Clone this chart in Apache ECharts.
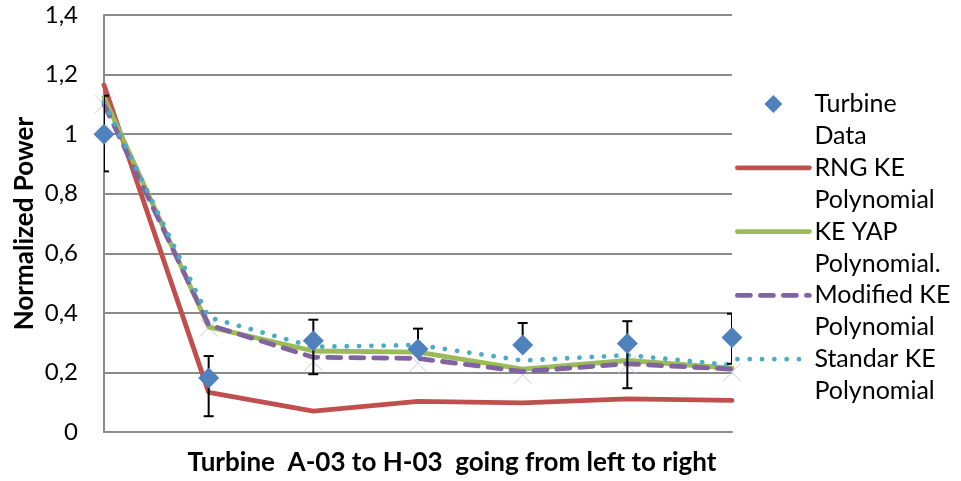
<!DOCTYPE html>
<html>
<head>
<meta charset="utf-8">
<script src="https://cdn.jsdelivr.net/npm/echarts@6/dist/echarts.min.js"></script>
<style>
html,body{margin:0;padding:0;background:#fff;}
#main{width:961px;height:481px;}
</style>
</head>
<body>
<div id="main"></div>
<script>
// ---- data ----
var categories = ['1', '2', '3', '4', '5', '6', '7'];
var yTickLabels = ['0', '0,2', '0,4', '0,6', '0,8', '1', '1,2', '1,4'];
var turbineData = [1.00, 0.181, 0.306, 0.279, 0.292, 0.297, 0.317];
var errHigh = [1.129, 0.255, 0.377, 0.347, 0.366, 0.372, 0.397];
var errLow = [0.875, 0.053, 0.194, 0.279, 0.292, 0.147, 0.229];
var rngKE = [1.165, 0.133, 0.070, 0.103, 0.098, 0.111, 0.106];
var keYAP = [1.124, 0.353, 0.272, 0.268, 0.211, 0.240, 0.214];
var modifiedKE = [1.100, 0.360, 0.251, 0.247, 0.203, 0.229, 0.211];
var standardKE = [1.108, 0.385, 0.286, 0.292, 0.240, 0.258, 0.225];
var crossMarks = [1.100, 0.350, 0.236, 0.231, 0.192, 0.225, 0.200];

var seriesNames = ['Turbine Data', 'RNG KE Polynomial', 'KE YAP Polynomial.', 'Modified KE Polynomial', 'Standar KE Polynomial'];
var legendLines = [['Turbine', 'Data'], ['RNG KE', 'Polynomial'], ['KE YAP', 'Polynomial.'], ['Modified KE', 'Polynomial'], ['Standar KE', 'Polynomial']];

var FONT = 'Lato';
var chart = echarts.init(document.getElementById('main'), null, {renderer: 'canvas'});

var errData = categories.map(function (c, i) { return [i, errLow[i], errHigh[i]]; });

var option = {
  backgroundColor: '#ffffff',
  animation: false,
  grid: {left: 104, right: 229, top: 15, bottom: 45, containLabel: false},
  legend: {
    orient: 'vertical',
    left: 735,
    top: 56,
    padding: 0,
    itemWidth: 72,
    itemHeight: 18,
    itemGap: -32.2,
    symbolKeepAspect: true,
    selectedMode: false,
    formatter: function (name) {
      var i = seriesNames.indexOf(name);
      return '\n' + legendLines[i].join('\n');
    },
    textStyle: {
      fontFamily: FONT, fontSize: 25, color: '#000', lineHeight: 32
    }
  },
  xAxis: {
    type: 'category',
    data: categories,
    boundaryGap: false,
    axisLine: {show: true, lineStyle: {color: '#8a8a8a', width: 2}},
    axisTick: {show: false},
    axisLabel: {show: false},
    splitLine: {show: false},
    name: 'Turbine  A-03 to H-03  going from left to right',
    nameLocation: 'middle',
    nameGap: 18,
    nameTextStyle: {fontFamily: FONT, fontWeight: 'bold', fontSize: 26, color: '#000', padding: [0, 0, 0, 68]}
  },
  yAxis: {
    type: 'value',
    min: 0, max: 1.4, interval: 0.2,
    axisLine: {show: true, lineStyle: {color: '#8a8a8a', width: 2}},
    axisTick: {show: false},
    axisLabel: {
      fontFamily: FONT, fontSize: 24, color: '#000', margin: 26,
      formatter: function (v) { return yTickLabels[Math.round(v / 0.2)]; }
    },
    splitLine: {show: true, lineStyle: {color: '#8a8a8a', width: 2}},
    name: 'Normalized Power',
    nameLocation: 'middle',
    nameRotate: 90,
    nameGap: 66,
    nameMoveOverlap: false,
    nameTextStyle: {fontFamily: FONT, fontWeight: 'bold', fontSize: 26, color: '#000'}
  },
  series: [
    {
      name: seriesNames[1], type: 'line', data: rngKE, symbol: 'none', z: 3,
      lineStyle: {color: '#C0504D', width: 4.8, cap: 'round'},
      itemStyle: {color: '#C0504D'}
    },
    {
      name: seriesNames[2], type: 'line', data: keYAP, symbol: 'none', z: 3,
      lineStyle: {color: '#9BBB59', width: 4.8, cap: 'round'},
      itemStyle: {color: '#9BBB59'}
    },
    {
      name: 'marks', type: 'scatter', data: crossMarks, z: 2,
      symbol: 'path://M0,0L10,10M10,0L0,10', symbolSize: 18,
      itemStyle: {color: 'none', borderColor: '#cfc8e3', borderWidth: 1, opacity: 1}
    },
    {
      name: seriesNames[3], type: 'line', data: modifiedKE, symbol: 'none', z: 4,
      lineStyle: {color: '#8064A2', width: 4.8, type: [13, 10], cap: 'round'},
      itemStyle: {color: '#8064A2'}
    },
    {
      name: seriesNames[4], type: 'line', data: standardKE, symbol: 'none', z: 5,
      lineStyle: {color: '#4BACC6', width: 4.8, type: [0.01, 12.3], cap: 'round'},
      itemStyle: {color: '#4BACC6'}
    },
    {
      name: 'err', type: 'custom', data: errData, z: 6, clip: true,
      renderItem: function (params, api) {
        var x = api.value(0);
        var lo = api.coord([x, api.value(1)]);
        var hi = api.coord([x, api.value(2)]);
        var hw = 5;
        var st = {stroke: '#000', lineWidth: 2};
        var children = [
          {type: 'line', shape: {x1: lo[0], y1: lo[1], x2: hi[0], y2: hi[1]}, style: st},
          {type: 'line', shape: {x1: hi[0] - hw, y1: hi[1], x2: hi[0] + hw, y2: hi[1]}, style: st}
        ];
        if (api.value(1) < turbineData[params.dataIndex] - 1e-6) {
          children.push({type: 'line', shape: {x1: lo[0] - hw, y1: lo[1], x2: lo[0] + hw, y2: lo[1]}, style: st});
        }
        return {type: 'group', children: children};
      }
    },
    {
      name: seriesNames[0], type: 'scatter', data: turbineData, z: 7,
      symbol: 'diamond', symbolSize: 21,
      itemStyle: {color: '#4F81BD', opacity: 1}
    }
  ]
};
option.legend.data = seriesNames.map(function (n, i) {
  if (i === 0) {
    return {name: n, icon: 'path://M0,-1L1,0L0,1L-1,0Z', itemStyle: {color: '#4F81BD', opacity: 1}};
  }
  return {
    name: n,
    itemStyle: {color: 'rgba(0,0,0,0)', borderWidth: 0, opacity: 0},
    lineStyle: {width: 4.8, cap: 'round'}
  };
});
chart.setOption(option);
</script>
</body>
</html>
